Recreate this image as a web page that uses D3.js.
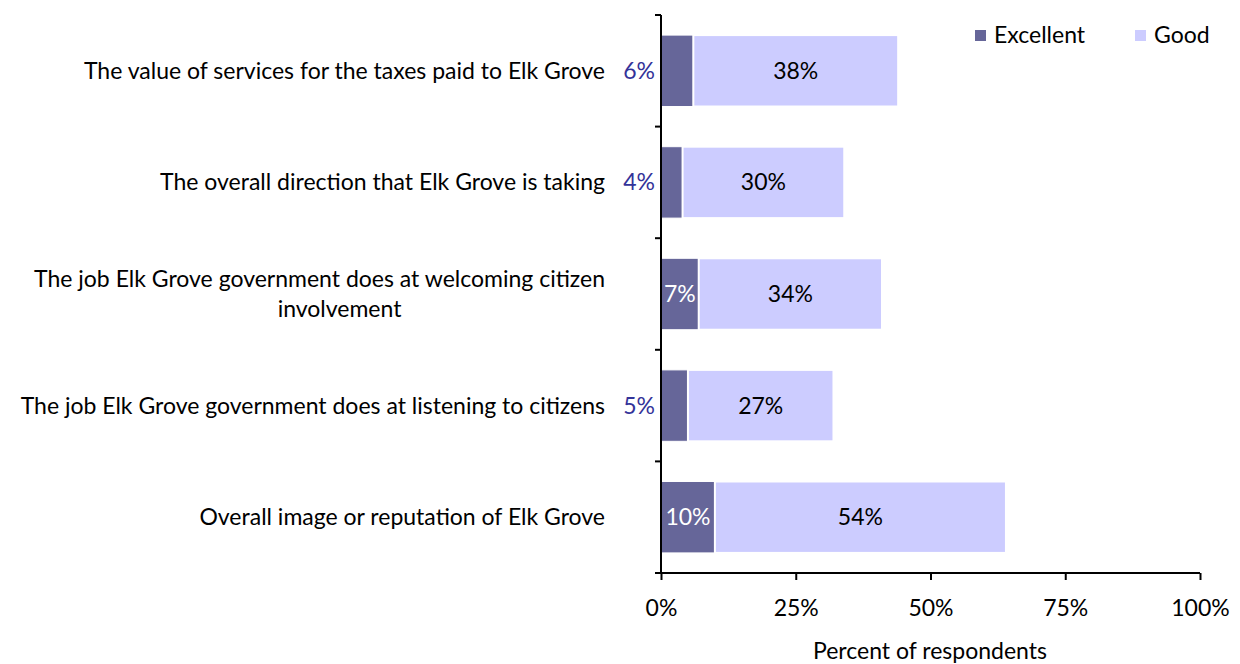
<!DOCTYPE html>
<html><head><meta charset="utf-8">
<script src="https://cdn.jsdelivr.net/npm/d3@7"></script>
<style>body{margin:0;background:#fff}text{font-family:Lato,"Open Sans",sans-serif}</style>
</head><body><svg id="c" width="1240" height="664"></svg>
<script>
const categories = [
  ["The value of services for the taxes paid to Elk Grove"],
  ["The overall direction that Elk Grove is taking"],
  ["The job Elk Grove government does at welcoming citizen", "involvement"],
  ["The job Elk Grove government does at listening to citizens"],
  ["Overall image or reputation of Elk Grove"]
];
const excellent = [6, 4, 7, 5, 10];
const good = [38, 30, 34, 27, 54];
const seriesNames = ["Excellent", "Good"];
const xTicks = [0, 25, 50, 75, 100];
const xTitle = "Percent of respondents";

const colors = {Excellent: "#666699", Good: "#ccccff"};
const svg = d3.select("#c");
const pL = 661, pR = 1200, pT = 15, pB = 573;
const x = d3.scaleLinear().domain([0, 100]).range([pL, pR]);
const y = d3.scaleBand().domain(d3.range(categories.length)).range([pT, pB]).paddingInner(0.36).paddingOuter(0.18);
const yb = d3.scaleBand().domain(d3.range(categories.length)).range([pT, pB]);
const fs = 23;

// bars
const g = svg.append("g");
categories.forEach((c, i) => {
  const e = excellent[i], gd = good[i];
  g.append("rect").attr("x", x(0)).attr("y", y(i)).attr("width", x(e) - x(0)).attr("height", y.bandwidth())
    .attr("fill", colors.Excellent).attr("stroke", "#fff").attr("stroke-width", 1);
  g.append("rect").attr("x", x(e)).attr("y", y(i)).attr("width", x(e + gd) - x(e)).attr("height", y.bandwidth())
    .attr("fill", colors.Good).attr("stroke", "#fff").attr("stroke-width", 2);
  const cy = y(i) + y.bandwidth() / 2;
  const inside = e >= 7;
  g.append("text").attr("x", inside ? (x(0) + x(e)) / 2 : x(0) - 6).attr("y", cy)
    .attr("dy", "0.35em").attr("text-anchor", inside ? "middle" : "end")
    .attr("fill", inside ? "#fff" : "#333399").attr("font-size", fs).text(e + "%");
  g.append("text").attr("x", (x(e) + x(e + gd)) / 2).attr("y", cy)
    .attr("dy", "0.35em").attr("text-anchor", "middle").attr("fill", "#000").attr("font-size", fs).text(gd + "%");
});

// y axis
const ya = svg.append("g");
ya.append("line").attr("x1", pL).attr("x2", pL).attr("y1", pT).attr("y2", pB).attr("stroke", "#000").attr("stroke-width", 2);
d3.range(categories.length + 1).forEach(k => {
  const yy = k < categories.length ? yb(k) : pB;
  ya.append("line").attr("x1", pL - 6).attr("x2", pL).attr("y1", yy).attr("y2", yy).attr("stroke", "#000").attr("stroke-width", 2);
});
categories.forEach((lines, i) => {
  const cy = yb(i) + yb.bandwidth() / 2;
  const lh = 30;
  if (lines.length === 1) {
    ya.append("text").attr("x", 605).attr("y", cy).attr("dy", "0.35em").attr("text-anchor", "end").attr("font-size", fs).attr("fill", "#000").text(lines[0]);
  } else {
    const t1 = ya.append("text").attr("x", 605).attr("y", cy - lh / 2).attr("dy", "0.35em").attr("text-anchor", "end").attr("font-size", fs).attr("fill", "#000").text(lines[0]);
    const L = t1.node().getComputedTextLength();
    ya.append("text").attr("x", 605 - L / 2 + 20).attr("y", cy + lh / 2).attr("dy", "0.35em").attr("text-anchor", "middle").attr("font-size", fs).attr("fill", "#000").text(lines[1]);
  }
});

// x axis
const xa = svg.append("g").attr("transform", `translate(0,${pB})`)
  .call(d3.axisBottom(x).tickValues(xTicks).tickFormat(d => d + "%").tickSize(7).tickPadding(20));
xa.select(".domain").attr("stroke-width", 2).attr("d", `M${pL - 6},0H${pR}`);
xa.selectAll(".tick line").attr("stroke-width", 2);
xa.selectAll("text").attr("font-size", fs).attr("font-family", "Lato,'Open Sans',sans-serif").attr("fill", "#000");
svg.append("text").attr("x", 930).attr("y", 651).attr("dy", "0.35em").attr("text-anchor", "middle").attr("font-size", fs).attr("fill", "#000").text(xTitle);

// legend
const lg = svg.append("g");
const lx = [975, 1135];
seriesNames.forEach((s, i) => {
  lg.append("rect").attr("x", lx[i]).attr("y", 30).attr("width", 11).attr("height", 11).attr("fill", colors[s]);
  lg.append("text").attr("x", lx[i] + 19).attr("y", 35).attr("dy", "0.35em").attr("font-size", fs).attr("fill", "#000").text(s);
});
</script></body></html>
